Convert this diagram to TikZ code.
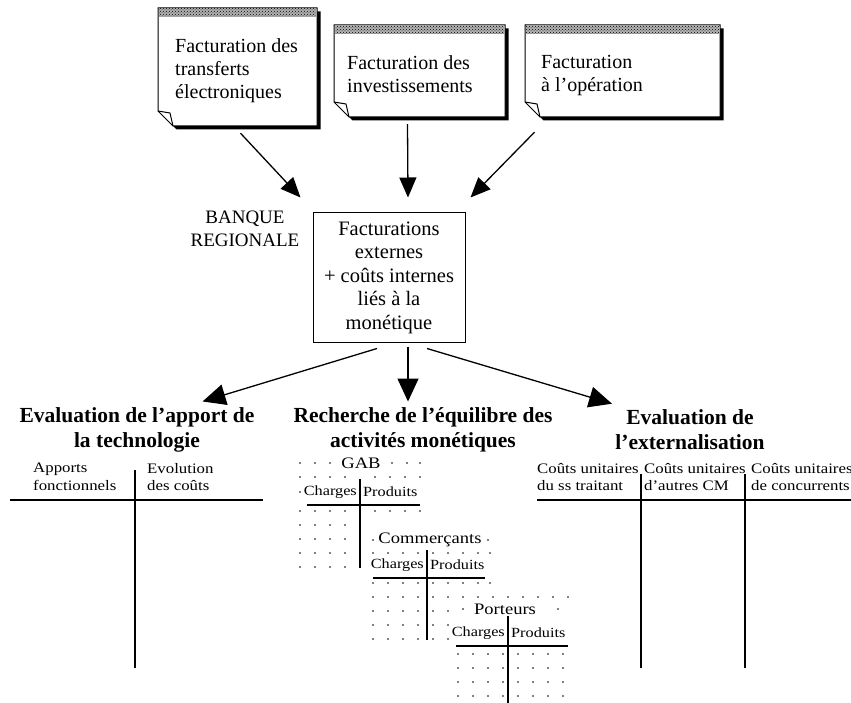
\documentclass[tikz,border=0pt]{standalone}
\usepackage{fontspec}
\setmainfont{Liberation Serif}
\newfontfamily\sw[FakeStretch=1.16]{Liberation Serif}
\usetikzlibrary{arrows.meta,patterns,fit,calc}
\newcommand\notebox[5]{%
  \fill[black] (#2+3.5,#3+3.5) -- (#4+3.5,#3+3.5) -- (#4+3.5,#5+3.5) -- (#2+18.5,#5+3.5) -- (#2+3.5,#5-11.5) -- cycle;
  \filldraw[fill=white,line width=1pt] (#2,#3) -- (#4,#3) -- (#4,#5) -- (#2+15,#5) -- (#2,#5-15) -- cycle;
  \fill[black!30] (#2+1,#3+1) rectangle (#4-1,#3+9);
  \fill[pattern=crosshatch dots,pattern color=black] (#2+1,#3+1) rectangle (#4-1,#3+9);
  \draw[line width=1pt,line join=round] (#2,#5-15) -- (#2+12,#5-13) -- (#2+15,#5);
  \node[fit={(#2,#3) (#4,#5)},inner sep=0] (#1) {};
}
\newcommand\dotrow[2]{\foreach \xx in {#2} \fill (\xx,#1) circle (0.85);}
\begin{document}
\begin{tikzpicture}[x=1pt,y=-1pt,
  notetext/.style={anchor=north west,align=left,inner sep=0,font=\fontsize{20}{23}\selectfont},
  head/.style={align=center,inner sep=0,font=\bfseries\fontsize{21.5}{25}\selectfont},
  small/.style={anchor=north west,align=left,inner sep=0,font=\sw\fontsize{14.5}{17.5}\selectfont},
  blab/.style={fill=white,inner sep=1pt,font=\sw\fontsize{16}{18}\selectfont},
  bcell/.style={fill=white,inner sep=1pt,font=\sw\fontsize{14}{16}\selectfont},
  tline/.style={line width=1.6pt},
  arrT/.style={line width=1.3pt,-{Triangle[length=20pt,width=17pt]}},
  arrB/.style={line width=1.3pt,-{Triangle[length=23pt,width=21pt]}}]
\useasboundingbox (0,0) rectangle (851,703);

% note boxes
\notebox{n1}{158}{8}{317}{126}
\notebox{n2}{334}{25}{505}{117}
\notebox{n3}{525}{25}{720}{117}
\node[notetext] (t1) at (175,38) {Facturation des\\transferts\\électroniques};
\node[notetext] (t2) at (347,55) {Facturation des\\investissements};
\node[notetext] (t3) at (541,55) {Facturation\\à l’opération};

% central box
\node[draw,line width=1pt,minimum width=152,minimum height=129,align=center,inner sep=0,
      font=\fontsize{20.5}{23.5}\selectfont] (c) at (389,277.5)
      {Facturations\\externes\\+ coûts internes\\liés à la\\monétique};
\node[align=center,inner sep=0,font=\fontsize{19}{23}\selectfont] (bq) at (245,229) {BANQUE\\REGIONALE};

% top arrows
\draw[arrT] ($(n1.south)+(3,7)$) -- ($(c.north west)+(-12,-15)$);
\draw[arrT] ($(n2.south)+(-12,7)$) -- ($(c.north)+(19,-15)$);
\draw[arrT] ($(n3.south)+(-88,15)$) -- ($(c.north east)+(5,-15)$);

% headings
\node[head] (h1) at (137,430) {Evaluation de l’apport de\\la technologie};
\node[head] (h2) at (423,430) {Recherche de l’équilibre des\\activités monétiques};
\node[head] (h3) at (690,430) {Evaluation de\\l’externalisation};

% bottom arrows
\draw[arrB] ($(c.south)+(-12,6)$) -- ($(h1.north east)+(-52,-6)$);
\draw[arrB] ($(c.south)+(19,4)$) -- ($(h2.north)+(-15,-6)$);
\draw[arrB] ($(c.south)+(38,6)$) -- ($(h3.north)+(-78,-6)$);

% left table
\node[small] (la) at (33,463) {Apports\\fonctionnels};
\node[small] (lb) at (147,463) {Evolution\\des coûts};
\draw[tline] (10,500) -- (263,500);
\draw[tline] (135,470) -- (135,668);

% right table
\node[small] (r1) at (537,463) {Coûts unitaires\\du ss traitant};
\node[small] (r2) at (644,463) {Coûts unitaires\\d’autres CM};
\node[small] (r3) at (751,463) {Coûts unitaires\\de concurrents};
\draw[tline] (537,500) -- (851,500);
\draw[tline] (641,474) -- (641,668);
\draw[tline] (745,474) -- (745,668);

% GAB block
\dotrow{463}{300,315,330,392,407,420}
\dotrow{477}{300,315,330,345,375,390,405,420}
\dotrow{492}{300}
\dotrow{511}{300,315,330,345,375,390,405,420}
\foreach \yy in {525,539,553,567} {\dotrow{\yy}{300,315,330,345}}
\node[blab] (gab) at (361,463) {GAB};
\node[bcell,anchor=east] (gc) at (358,492) {Charges};
\node[bcell,anchor=west] (gp) at (362,492) {Produits};
\draw[tline] (360,479) -- (360,568);
\draw[line width=1.3pt] (307,505) -- (420,505);

% Commercants block
\dotrow{540}{373,488}
\dotrow{553}{373,388,403,418,433,448,463,478,490}
\dotrow{583}{373,388,403,418,433,448,463,478,490}
\foreach \yy in {597,611,625,639} {\dotrow{\yy}{373,388,403,418,433,448}}
\node[blab] (com) at (430,540) {Commerçants};
\node[bcell,anchor=east] (cc) at (425,565) {Charges};
\node[bcell,anchor=west] (cp) at (429,565) {Produits};
\draw[tline] (427,550) -- (427,640);
\draw[line width=1.3pt] (373,578) -- (485,578);

% Porteurs block
\dotrow{597}{463,478,493,508,523,538,553,568}
\dotrow{609}{463,478,558}
\foreach \yy in {654,668,682,696} {\dotrow{\yy}{458,473,488,503,518,533,548,563}}
\node[blab] (por) at (505,609) {Porteurs};
\node[bcell,anchor=east] (pc) at (506,633) {Charges};
\node[bcell,anchor=west] (pp) at (510,633) {Produits};
\draw[tline] (508,616) -- (508,703);
\draw[line width=1.3pt] (456,646) -- (568,646);
\end{tikzpicture}
\end{document}
